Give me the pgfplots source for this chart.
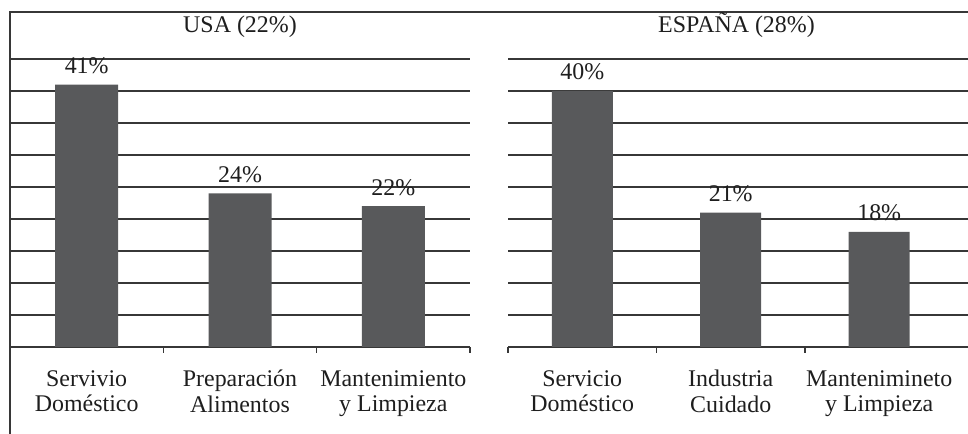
\documentclass[border=0pt]{standalone}
\usepackage{fontspec}
\setmainfont{Liberation Serif}
\usepackage{pgfplots}
\pgfplotsset{compat=1.18}

\definecolor{barfill}{RGB}{88,89,91}
\definecolor{gridc}{RGB}{55,55,55}
\definecolor{txt}{RGB}{30,30,30}

\pgfplotsset{
  panel/.style={
    scale only axis,
    height=288bp,
    ymin=0, ymax=45,
    ytick={5,10,...,45},
    ymajorgrids,
    grid style={gridc, line width=1.1bp},
    yticklabels={},
    ytick style={draw=none},
    axis x line*=bottom,
    axis y line*=left,
    y axis line style={draw=none},
    x axis line style={gridc, line width=1.1bp, -},
    xtick={0,1,2},
    major tick length=0pt,
    minor tick length=6bp,
    tick align=outside,
    minor x tick style={gridc, line width=1.1bp},
    ybar, bar shift=0pt,
    font=\fontsize{24}{25.5}\selectfont,
    xticklabel style={align=center, text=txt, inner sep=0pt, yshift=-23bp},
    nodes near coords={\pgfmathprintnumber[assume math mode=true]{\pgfplotspointmeta}\%},
    nodes near coords style={anchor=south, inner sep=0pt, yshift=10.5bp, text=txt},
    clip=false,
  }
}

\begin{document}
\begin{tikzpicture}[x=1bp, y=1bp]
\useasboundingbox (0,0) rectangle (968,434);

% USA panel
\begin{axis}[panel,
  width=460bp,
  at={(10bp,87bp)}, anchor=south west,
  xmin=-0.5, xmax=2.5,
  minor xtick={-0.5,0.5,1.5,2.5},
  bar width=63bp,
  xticklabels={{Servivio\\Doméstico},{Preparación\\Alimentos},{Mantenimiento\\y Limpieza}},
]
\addplot[fill=barfill, draw=none] coordinates {(0,41) (1,24) (2,22)};
\end{axis}

% Spain panel
\begin{axis}[panel,
  width=460bp,
  at={(508bp,87bp)}, anchor=south west,
  xmin=-0.5, xmax=2.598,
  minor xtick={-0.5,0.5,1.5},
  bar width=61bp,
  xticklabels={{Servicio\\Doméstico},{Industria\\Cuidado},{Mantenimineto\\y Limpieza}},
]
\addplot[fill=barfill, draw=none] coordinates {(0,40) (1,21) (2,18)};
\end{axis}

% chart frame
\draw[gridc, line width=1.2bp] (10,0) -- (10,422) -- (968,422);

% panel titles
\node[anchor=base, text=txt, font=\fontsize{24}{25.5}\selectfont] at (240,401) {USA (22\%)};
\node[anchor=base, text=txt, font=\fontsize{24}{25.5}\selectfont] at (736.5,401) {ESPAÑA (28\%)};
\end{tikzpicture}
\end{document}
